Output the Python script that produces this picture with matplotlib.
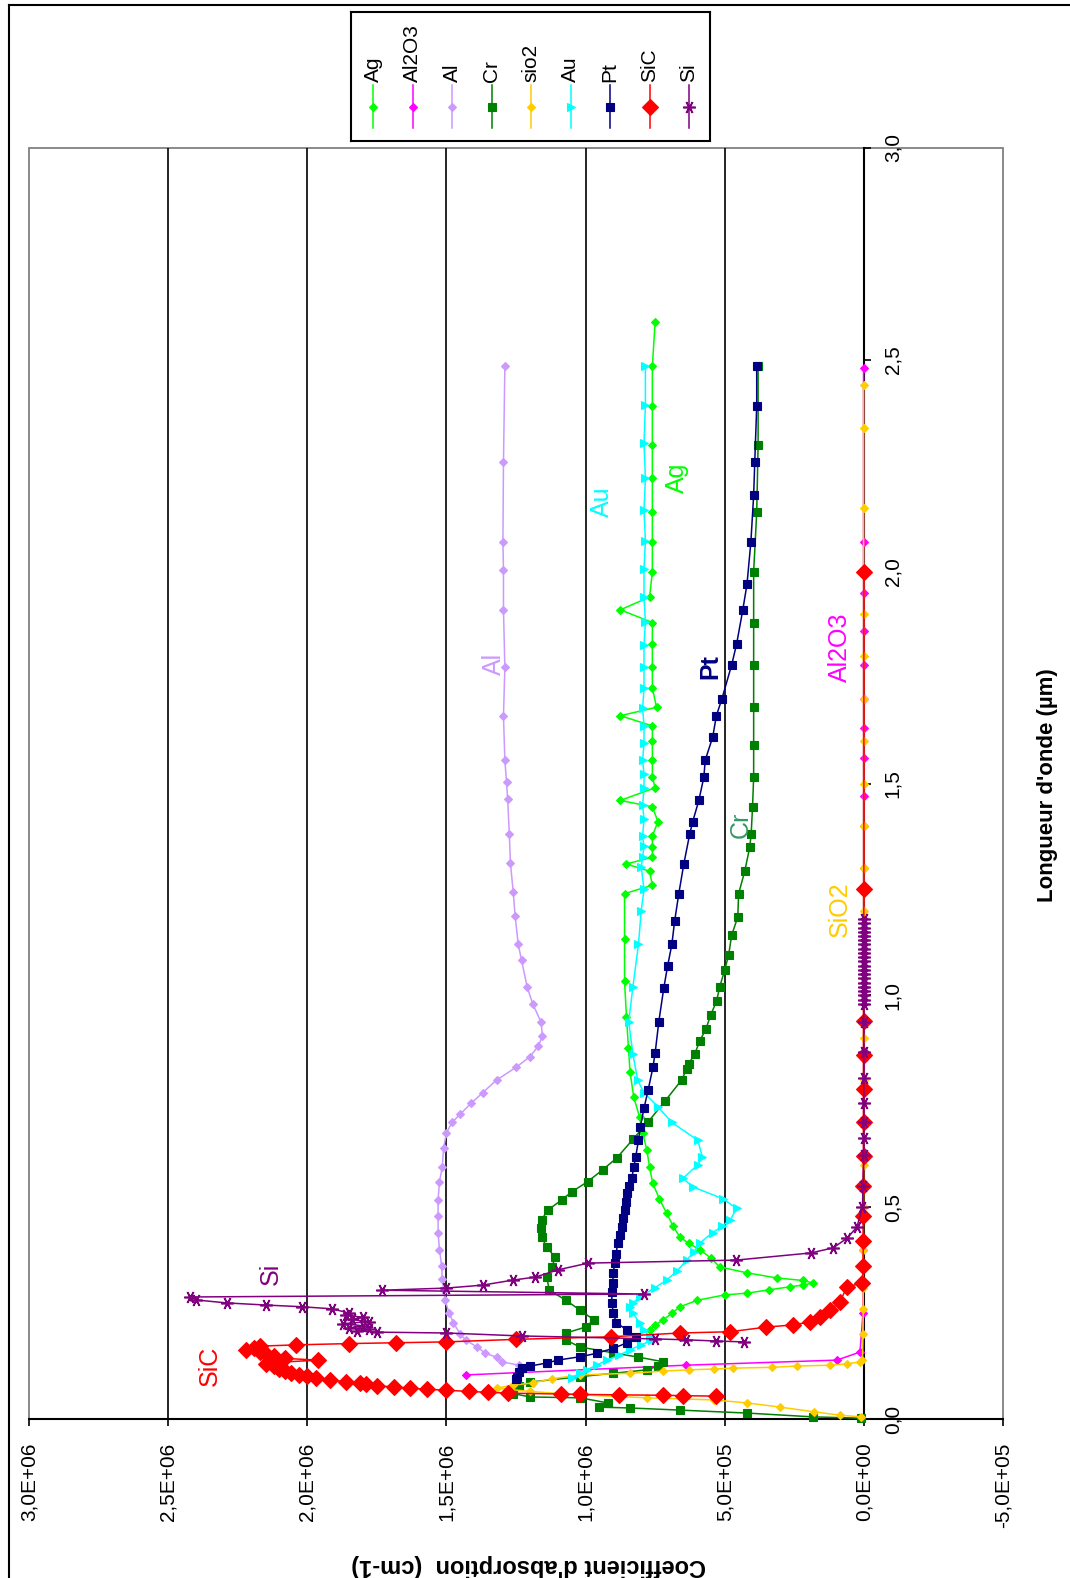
import matplotlib
matplotlib.use("Agg")
import matplotlib.pyplot as plt
from matplotlib.patches import Rectangle
from matplotlib.lines import Line2D

plt.rcParams['font.family'] = ['Liberation Sans', 'DejaVu Sans']

# absorption values are in units of 1e5 cm-1, wavelengths in µm
ag_w = [0.21, 0.222, 0.234, 0.25, 0.265, 0.28, 0.293, 0.297, 0.305, 0.312,
        0.316, 0.321, 0.327, 0.333, 0.345, 0.359, 0.38, 0.40, 0.415, 0.43,
        0.455, 0.486, 0.52, 0.557, 0.595, 0.635, 0.676, 0.713, 0.76, 0.818,
        0.876, 0.95, 1.033, 1.134, 1.24, 1.26, 1.293, 1.31, 1.326, 1.35,
        1.376, 1.41, 1.445, 1.46, 1.49, 1.515, 1.555, 1.6, 1.636, 1.66,
        1.68, 1.725, 1.775, 1.83, 1.88, 1.91, 1.94, 2.0, 2.07, 2.14,
        2.22, 2.30, 2.39, 2.485, 2.59]
ag_a = [7.7, 7.5, 7.2, 6.9, 6.6, 6.0, 5.0, 4.2, 3.4, 2.66,
        2.2, 1.83, 2.2, 3.13, 4.2, 5.18, 5.5, 5.9, 6.3, 6.62,
        6.85, 7.09, 7.35, 7.59, 7.7, 7.8, 7.95, 8.06, 8.27, 8.4,
        8.46, 8.53, 8.6, 8.6, 8.6, 7.6, 7.7, 8.54, 7.6, 7.6,
        7.6, 7.4, 7.6, 8.75, 7.5, 7.6, 7.6, 7.6, 7.6, 8.75,
        7.45, 7.6, 7.6, 7.6, 7.6, 8.75, 7.7, 7.6, 7.6, 7.6,
        7.6, 7.6, 7.6, 7.6, 7.5]

al2o3_w = [0.104, 0.127, 0.139, 0.158, 0.25, 0.4, 0.55, 0.7, 0.85, 1.0,
           1.15, 1.3, 1.4, 1.47, 1.56, 1.63, 1.7, 1.78, 1.86, 1.95,
           2.07, 2.48]
al2o3_a = [14.3, 6.4, 0.97, 0.14, 0.03, 0.02, 0.02, 0.01, 0.01, 0.01,
           0.01, 0.01, 0.01, 0.01, 0.01, 0.01, 0.01, 0.01, 0.01, 0.01,
           0.01, 0.01]

al_w = [0.127, 0.135, 0.146, 0.155, 0.17, 0.186, 0.2, 0.227, 0.25, 0.28,
        0.305, 0.33, 0.36, 0.4, 0.44, 0.48, 0.517, 0.56, 0.595, 0.64,
        0.675, 0.70, 0.72, 0.746, 0.77, 0.80, 0.83, 0.855, 0.88, 0.904,
        0.937, 0.98, 1.02, 1.083, 1.12, 1.187, 1.244, 1.312, 1.381, 1.463,
        1.503, 1.555, 1.659, 1.775, 1.909, 2.004, 2.07, 2.259, 2.485]
al_a = [12.4, 13.0, 13.2, 13.6, 13.9, 14.3, 14.5, 14.75, 14.9, 15.05,
        15.1, 15.15, 15.17, 15.25, 15.3, 15.3, 15.3, 15.25, 15.15, 15.1,
        15.0, 14.8, 14.5, 14.1, 13.7, 13.2, 12.5, 12.0, 11.7, 11.55,
        11.6, 11.9, 12.1, 12.3, 12.42, 12.53, 12.6, 12.7, 12.74, 12.8,
        12.84, 12.9, 12.95, 12.9, 12.95, 12.95, 12.97, 12.95, 12.9]

cr_w = [0.002, 0.005, 0.014, 0.021, 0.026, 0.028, 0.038, 0.05, 0.052, 0.06,
        0.068, 0.078, 0.087, 0.1, 0.108, 0.116, 0.125, 0.135, 0.146, 0.156,
        0.17, 0.186, 0.203, 0.217, 0.234, 0.257, 0.28, 0.304, 0.335, 0.359,
        0.382, 0.406, 0.43, 0.45, 0.47, 0.493, 0.517, 0.536, 0.56, 0.588,
        0.616, 0.66, 0.70, 0.75, 0.80, 0.826, 0.838, 0.861, 0.892, 0.92,
        0.954, 0.987, 1.02, 1.06, 1.095, 1.142, 1.185, 1.24, 1.293, 1.35,
        1.38, 1.445, 1.515, 1.59, 1.68, 1.78, 1.88, 2.0, 2.14, 2.30,
        2.485]
cr_a = [0.1, 1.83, 4.2, 6.6, 8.4, 9.5, 9.2, 10.2, 12.0, 12.6,
        12.6, 12.4, 12.0, 10.2, 9.0, 7.8, 7.4, 7.2, 8.1, 9.0,
        10.2, 10.7, 10.7, 10.0, 9.7, 10.2, 10.7, 11.3, 11.4, 11.2,
        11.1, 11.4, 11.58, 11.6, 11.58, 11.36, 10.86, 10.5, 9.93, 9.39,
        8.88, 8.3, 7.77, 7.15, 6.55, 6.37, 6.3, 6.08, 5.9, 5.68,
        5.5, 5.29, 5.18, 5.0, 4.86, 4.75, 4.53, 4.5, 4.28, 4.1,
        4.05, 4.0, 3.96, 3.96, 3.96, 3.96, 3.96, 3.96, 3.85, 3.8,
        3.8]

sio2_w = [0.005, 0.009, 0.017, 0.028, 0.038, 0.045, 0.05, 0.057, 0.065, 0.073,
          0.08, 0.085, 0.095, 0.104, 0.108, 0.113, 0.116, 0.118, 0.12, 0.122,
          0.125, 0.127, 0.13, 0.135, 0.14, 0.2, 0.26, 0.31, 0.4, 0.5,
          0.6, 0.7, 0.8, 0.9, 1.0, 1.1, 1.2, 1.3, 1.4, 1.5,
          1.6, 1.7, 1.8, 1.9, 2.0, 2.15, 2.34, 2.44]
sio2_a = [0.1, 0.86, 1.8, 3.0, 4.2, 5.4, 7.8, 10.2, 12.0, 13.2,
          12.6, 11.9, 11.2, 10.2, 8.4, 7.2, 6.3, 5.4, 4.7, 3.3,
          2.4, 1.2, 0.6, 0.14, 0.05, 0.03, 0.02, 0.02, 0.02, 0.01,
          0.01, 0.01, 0.01, 0.01, 0.01, 0.01, 0.01, 0.01, 0.01, 0.01,
          0.01, 0.01, 0.01, 0.01, 0.01, 0.01, 0.01, 0.01]

au_w = [0.097, 0.108, 0.116, 0.127, 0.139, 0.15, 0.163, 0.175, 0.186, 0.194,
        0.21, 0.227, 0.25, 0.264, 0.274, 0.288, 0.31, 0.328, 0.35, 0.375,
        0.395, 0.415, 0.44, 0.455, 0.47, 0.497, 0.52, 0.548, 0.568, 0.6,
        0.618, 0.658, 0.70, 0.737, 0.77, 0.80, 0.862, 0.937, 1.02, 1.12,
        1.2, 1.25, 1.303, 1.326, 1.352, 1.376, 1.416, 1.449, 1.489, 1.522,
        1.555, 1.596, 1.636, 1.678, 1.725, 1.775, 1.827, 1.881, 1.94, 2.006,
        2.072, 2.145, 2.221, 2.303, 2.393, 2.485]
au_a = [10.47, 10.2, 9.96, 9.6, 9.24, 8.8, 8.42, 8.0, 7.6, 7.7,
        7.9, 8.06, 8.3, 8.42, 8.3, 8.06, 7.5, 7.09, 6.7, 6.37,
        6.1, 5.9, 5.43, 5.1, 4.8, 4.57, 5.07, 6.15, 6.5, 5.97,
        5.8, 5.97, 6.9, 7.4, 7.9, 8.13, 8.3, 8.45, 8.3, 8.1,
        8.0, 7.9, 8.0, 7.95, 7.9, 7.95, 7.9, 7.95, 7.9, 7.9,
        7.95, 7.9, 7.9, 7.95, 7.9, 7.9, 7.9, 7.85, 7.9, 7.9,
        7.85, 7.9, 7.85, 7.9, 7.85, 7.85]

pt_w = [0.095, 0.1, 0.11, 0.12, 0.125, 0.132, 0.139, 0.147, 0.155, 0.167,
        0.18, 0.194, 0.21, 0.227, 0.25, 0.274, 0.3, 0.32, 0.345, 0.368,
        0.39, 0.415, 0.435, 0.453, 0.475, 0.493, 0.513, 0.533, 0.55, 0.568,
        0.594, 0.618, 0.658, 0.69, 0.734, 0.777, 0.83, 0.864, 0.937, 1.017,
        1.07, 1.12, 1.175, 1.24, 1.31, 1.38, 1.41, 1.46, 1.515, 1.555,
        1.61, 1.66, 1.70, 1.78, 1.83, 1.91, 1.97, 2.07, 2.18, 2.26,
        2.39, 2.485]
pt_a = [12.5, 12.45, 12.4, 12.3, 12.0, 11.4, 11.0, 10.2, 9.6, 9.0,
        8.5, 8.2, 8.5, 8.9, 9.0, 9.06, 9.05, 9.03, 9.0, 8.96,
        8.9, 8.85, 8.78, 8.7, 8.65, 8.6, 8.56, 8.52, 8.43, 8.34,
        8.27, 8.2, 8.1, 8.03, 7.9, 7.75, 7.58, 7.5, 7.37, 7.19,
        7.05, 6.9, 6.8, 6.65, 6.47, 6.26, 6.15, 5.93, 5.75, 5.7,
        5.43, 5.3, 5.1, 4.75, 4.57, 4.35, 4.2, 4.06, 3.96, 3.92,
        3.85, 3.85]

sic_w = [0.054, 0.055, 0.056, 0.057, 0.058, 0.059, 0.061, 0.063, 0.065, 0.068,
         0.070, 0.073, 0.076, 0.078, 0.082, 0.085, 0.088, 0.092, 0.097, 0.101,
         0.105, 0.108, 0.113, 0.118, 0.124, 0.130, 0.134, 0.139, 0.143, 0.148,
         0.153, 0.158, 0.163, 0.168, 0.172, 0.175, 0.178, 0.18, 0.182, 0.188,
         0.194, 0.203, 0.206, 0.217, 0.222, 0.229, 0.241, 0.257, 0.276, 0.312,
         0.321, 0.36, 0.42, 0.48, 0.55, 0.62, 0.7, 0.78, 0.86, 0.94,
         1.25, 2.0]
sic_a = [5.3, 6.5, 7.2, 8.8, 10.2, 10.9, 12.8, 13.5, 14.2, 15.0,
         15.7, 16.3, 16.9, 17.5, 17.9, 18.1, 18.6, 19.2, 19.7, 20.0,
         20.3, 20.6, 20.8, 21.0, 21.2, 21.5, 21.0, 19.6, 20.8, 21.2,
         21.5, 21.7, 22.2, 21.9, 21.7, 20.4, 18.5, 16.8, 15.0, 12.5,
         9.1, 6.6, 4.8, 3.5, 2.55, 1.94, 1.58, 1.22, 0.86, 0.61,
         0.05, 0.03, 0.02, 0.02, 0.02, 0.01, 0.01, 0.01, 0.01, 0.01,
         0.0, 0.0]

si_w = [0.182, 0.184, 0.187, 0.189, 0.196, 0.203, 0.205, 0.208, 0.212, 0.215,
        0.22, 0.225, 0.23, 0.235, 0.24, 0.245, 0.25, 0.26, 0.265, 0.269,
        0.274, 0.281, 0.288, 0.295, 0.304, 0.309, 0.316, 0.328, 0.335, 0.352,
        0.368, 0.375, 0.392, 0.404, 0.427, 0.453, 0.5, 0.55, 0.623, 0.663,
        0.70, 0.746, 0.805, 0.866, 0.937, 0.98, 0.99, 1.0, 1.01, 1.02,
        1.03, 1.04, 1.05, 1.06, 1.07, 1.08, 1.09, 1.10, 1.11, 1.12,
        1.13, 1.14, 1.15, 1.16, 1.17, 1.18]
si_a = [4.3, 5.3, 6.4, 7.5, 12.3, 15.0, 17.5, 18.2, 17.8, 18.5,
        18.0, 18.7, 17.8, 18.4, 18.0, 18.6, 18.5, 19.1, 20.2, 21.5,
        22.9, 24.0, 24.2, 7.9, 17.3, 15.0, 13.7, 12.6, 11.8, 11.0,
        9.9, 4.6, 1.9, 1.1, 0.6, 0.25, 0.05, 0.03, 0.0, 0.0,
        0.0, 0.0, 0.0, 0.0, 0.0, 0.0, 0.0, 0.0, 0.0, 0.0,
        0.0, 0.0, 0.0, 0.0, 0.0, 0.0, 0.0, 0.0, 0.0, 0.0,
        0.0, 0.0, 0.0, 0.0, 0.0, 0.0]

val_ticks = [30, 25, 20, 15, 10, 5, 0, -5]
val_labels = ['3,0E+06', '2,5E+06', '2,0E+06', '1,5E+06', '1,0E+06',
              '5,0E+05', '0,0E+00', '-5,0E+05']
wl_ticks = [0.0, 0.5, 1.0, 1.5, 2.0, 2.5, 3.0]
wl_labels = ['0,0', '0,5', '1,0', '1,5', '2,0', '2,5', '3,0']

# name, w, a, colour, marker, marker size
series = [
    ('Ag', ag_w, ag_a, '#00FF00', 'D', 4),
    ('Al2O3', al2o3_w, al2o3_a, '#FF00FF', 'D', 4),
    ('Al', al_w, al_a, '#CC99FF', 'D', 4),
    ('Cr', cr_w, cr_a, '#008000', 's', 5.5),
    ('sio2', sio2_w, sio2_a, '#FFCC00', 'D', 4),
    ('Au', au_w, au_a, '#00FFFF', '>', 5.5),
    ('Pt', pt_w, pt_a, '#000080', 's', 5.5),
    ('SiC', sic_w, sic_a, '#FF0000', 'D', 8),
    ('Si', si_w, si_a, '#800080', (6, 2, 90), 9),
]

# in-chart labels: text, a, w, colour, weight
labels = [
    ('SiC', 23.5, 0.125, '#FF0000', 'normal'),
    ('Si', 21.3, 0.342, '#800080', 'normal'),
    ('Al', 13.3, 1.782, '#CC99FF', 'normal'),
    ('Au', 9.4, 2.164, '#00FFFF', 'normal'),
    ('Ag', 6.7, 2.221, '#00FF00', 'normal'),
    ('Pt', 5.5, 1.777, '#000080', 'bold'),
    ('Al2O3', 0.86, 1.822, '#FF00FF', 'normal'),
    ('Cr', 4.42, 1.402, '#339966', 'normal'),
    ('SiO2', 0.86, 1.204, '#FFCC00', 'normal'),
]

W, H = 1070, 1578
fig = plt.figure(figsize=(W / 100, H / 100), dpi=100)

ax = fig.add_axes([29 / W, 1 - 1419 / H, (1003 - 29) / W, (1419 - 148) / H])
ax.set_xlim(30, -5)
ax.set_ylim(0, 3)

for v in val_ticks[1:-2]:
    ax.axvline(v, color='black', lw=1.2, zorder=1)

for name, w, a, col, mk, ms in series:
    mew = 1.2 if name == 'Si' else 0.8
    ax.plot(a, w, color=col, lw=1.1, marker=mk, ms=ms, mec=col, mfc=col,
            mew=mew, zorder=3, clip_on=False)

for txt, a, w, col, fw in labels:
    ax.text(a, w, txt, rotation=90, ha='center', va='center', color=col,
            fontsize=18, fontweight=fw, zorder=5)

# plot area border
ax.add_patch(Rectangle((0, 0), 1, 1, transform=ax.transAxes, fill=False,
                       edgecolor='#808080', lw=1.3, clip_on=False, zorder=0.5))
ax.spines['left'].set_visible(False)
ax.spines['top'].set_visible(False)
ax.spines['bottom'].set_color('black')
ax.spines['bottom'].set_linewidth(1.5)
ax.spines['right'].set_position(('data', 0))
ax.spines['right'].set_color('black')
ax.spines['right'].set_linewidth(1.5)

ax.set_xticks(val_ticks, labels=val_labels, rotation=90)
ax.yaxis.tick_right()
ax.set_yticks(wl_ticks, labels=wl_labels, rotation=90, va='center')
ax.tick_params(axis='x', direction='out', length=5, width=1.2, pad=12,
               labelsize=15)
ax.tick_params(axis='y', direction='out', length=5, width=1.2, pad=9,
               labelsize=15)

fig.text(1048 / W, 1 - 785 / H, "Longueur d'onde (µm)", rotation=90,
         ha='center', va='center', fontsize=16, fontweight='bold')
fig.text(529 / W, 1 - 1566 / H, "Coefficient d'absorption  (cm-1)",
         rotation=180, ha='center', va='center', fontsize=17,
         fontweight='bold')

# outer frame (top and left edges visible)
fig.add_artist(Line2D([9 / W, 1], [1 - 5 / H, 1 - 5 / H], color='black', lw=1.5))
fig.add_artist(Line2D([9 / W, 9 / W], [0, 1 - 5 / H], color='black', lw=1.5))

# legend box
lax = fig.add_axes([351 / W, 1 - 141 / H, (710 - 351) / W, (141 - 12) / H])
lax.set_xlim(351, 710)
lax.set_ylim(141, 12)
lax.set_xticks([])
lax.set_yticks([])
for sp in lax.spines.values():
    sp.set_color('black')
    sp.set_linewidth(1.5)
for i, (name, w, a, col, mk, ms) in enumerate(series):
    x = 373 + 39.5 * i
    lax.plot([x, x], [85, 128], color=col, lw=1.1)
    mew = 1.2 if name == 'Si' else 0.8
    lax.plot([x], [107], marker=mk, ms=ms, color=col, mec=col, mew=mew)
    lax.text(x, 82, name, rotation=90, ha='center', va='bottom', fontsize=15)

fig.savefig('out.png', dpi=100)
